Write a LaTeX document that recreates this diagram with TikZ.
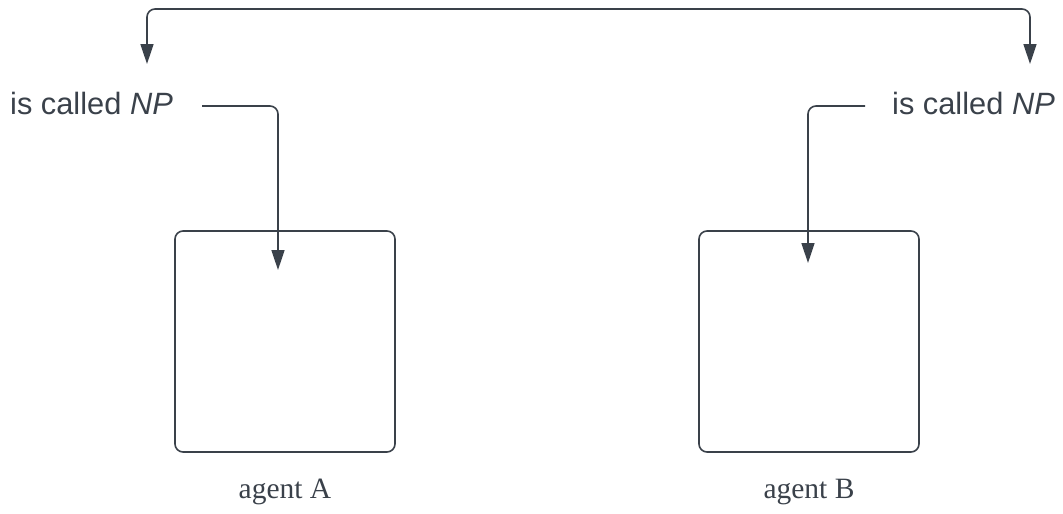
\documentclass[tikz,border=0pt]{standalone}
\usepackage{fontspec}
\setmainfont{Liberation Serif}
\setsansfont{Liberation Sans}
\usetikzlibrary{arrows.meta}
\definecolor{ink}{RGB}{58,65,74}
\begin{document}
\begin{tikzpicture}[x=1pt,y=-1pt,
  line/.style={draw=ink, line width=1.6pt, rounded corners=8pt},
  arr/.style={-{Triangle[length=20pt,width=13pt]}},
  biarr/.style={{Triangle[length=20pt,width=13pt]}-{Triangle[length=20pt,width=13pt]}},
  agentbox/.style={draw=ink, line width=1.6pt, rounded corners=8pt, minimum width=220pt, minimum height=221pt, inner sep=0pt},
  called/.style={text=ink, inner sep=0pt, font=\sffamily\fontsize{30.8}{36}\selectfont},
  agentlabel/.style={text=ink, inner sep=0pt, font=\rmfamily\fontsize{29.5}{34}\selectfont}]
\useasboundingbox (0,0) rectangle (1063,514);
\node[agentbox] (boxA) at (285,341.5) {};
\node[agentbox] (boxB) at (809,341.5) {};
\node[agentlabel] (labelA) at (285,492) {agent A};
\node[agentlabel] (labelB) at (809,492) {agent B};
\node[called, anchor=west] (textL) at (10,103) {is called \textit{NP}};
\node[called, anchor=east] (textR) at (1055,103) {is called \textit{NP}};
\coordinate (tipL) at (147,64);
\coordinate (tipR) at (1030,64);
\coordinate (startL) at (202,106);
\coordinate (startR) at (865,106);
\coordinate (tipA) at (278,270);
\coordinate (tipB) at (808,263);
\draw[line, biarr] (tipL) -- (tipL |- 0,9) -- (tipR |- 0,9) -- (tipR);
\draw[line, arr] (startL) -- (tipA |- startL) -- (tipA);
\draw[line, arr] (startR) -- (tipB |- startR) -- (tipB);
\end{tikzpicture}
\end{document}
